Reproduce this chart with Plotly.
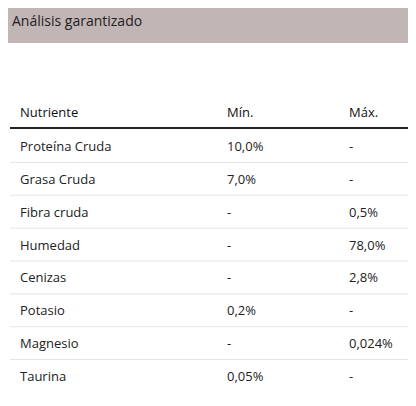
import plotly.graph_objects as go

title = "Análisis garantizado"
columns = ["Nutriente", "Mín.", "Máx."]
nutrients = ["Proteína Cruda", "Grasa Cruda", "Fibra cruda", "Humedad",
             "Cenizas", "Potasio", "Magnesio", "Taurina"]
min_vals = ["10,0%", "7,0%", "-", "-", "-", "0,2%", "-", "0,05%"]
max_vals = ["-", "-", "0,5%", "78,0%", "2,8%", "-", "0,024%", "-"]

# page adds ~8px body margin, so shift everything back
off = 8
col_x = [18 - off, 225 - off, 347 - off]
step = 32.85
top = 146 - off
W, H = 416, 406

fig = go.Figure()
fig.add_trace(go.Scatter(x=[0], y=[0], mode="markers", marker=dict(opacity=0),
                         hoverinfo="skip", showlegend=False))

font = dict(family="Open Sans, DejaVu Sans", size=13, color="#222222")
hfont = dict(family="Open Sans, DejaVu Sans", size=13, color="#111111")
ann = []
for j, c in enumerate(columns):
    ann.append(dict(x=col_x[j], y=-1.035, text=c, xanchor="left", yanchor="middle",
                    showarrow=False, font=hfont))
for i, row in enumerate(zip(nutrients, min_vals, max_vals)):
    for j, v in enumerate(row):
        ann.append(dict(x=col_x[j], y=i, text=v, xanchor="left", yanchor="middle",
                        showarrow=False, font=font))
ann.append(dict(x=10 - off, y=(20 - 146) / step, text=title, xanchor="left", yanchor="middle",
                showarrow=False, font=dict(family="Open Sans, DejaVu Sans", size=14, color="#222222")))

shapes = [dict(type="rect", xref="paper", yref="paper", x0=0, x1=1, y0=1 - 35 / H, y1=1,
               fillcolor="#c2b5b5", line_width=0, layer="below"),
          dict(type="line", x0=10 - off, x1=W, y0=-0.55, y1=-0.55, line=dict(color="#222222", width=2))]
for i in range(len(nutrients) - 1):
    shapes.append(dict(type="line", x0=10 - off, x1=W, y0=i + 0.5, y1=i + 0.5,
                       line=dict(color="#e4e4ea", width=1)))

y0 = -top / step
y1 = (H - top) / step
fig.update_layout(
    width=W, height=H, margin=dict(l=0, r=0, t=0, b=0),
    paper_bgcolor="white", plot_bgcolor="white",
    xaxis=dict(range=[0, W], visible=False, fixedrange=True),
    yaxis=dict(range=[y1, y0], visible=False, fixedrange=True),
    annotations=ann, shapes=shapes, showlegend=False,
)
fig.write_html("out.html")
